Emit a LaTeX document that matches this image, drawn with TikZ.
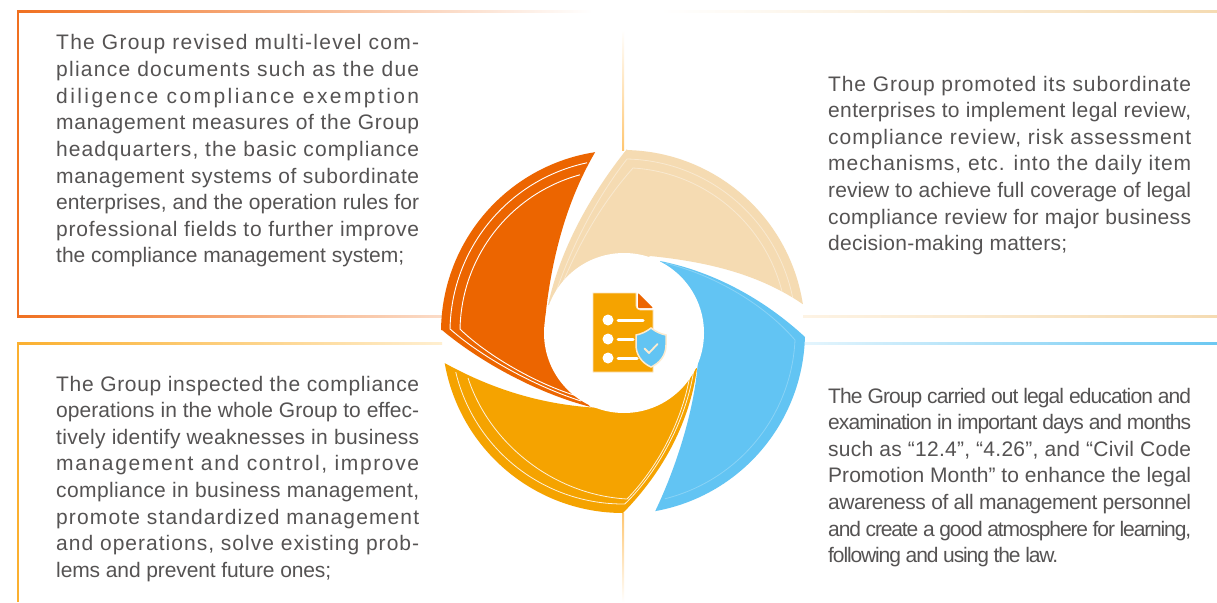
\documentclass[tikz,border=0pt]{standalone}
\usepackage{fontspec}
\usepackage{xcolor}
\setmainfont{Liberation Sans}
\definecolor{cdark}{HTML}{EC6500}
\definecolor{cpeach}{HTML}{F5DBB2}
\definecolor{cblue}{HTML}{62C4F3}
\definecolor{cyell}{HTML}{F5A300}
\definecolor{ctext}{HTML}{555353}
\definecolor{corg}{HTML}{F07020}
\definecolor{corgfade}{HTML}{FBDCC8}
\definecolor{cpfade}{HTML}{FDF3E4}
\definecolor{cbfade}{HTML}{E4F5FD}
\definecolor{cbline}{HTML}{6CC8F2}
\definecolor{cyline}{HTML}{FBB030}
\definecolor{cyfade}{HTML}{FFEFD0}
\definecolor{cvline}{HTML}{FFC670}
\definecolor{cicone}{HTML}{FBE3BC}
\definecolor{cshe}{HTML}{FCEBD0}
\newlength\fitN
\newlength\fitM
\ExplSyntaxOn
\cs_new:Npn \fitcount #1 { \str_count:n {#1} }
\ExplSyntaxOff
% first estimate of the tracking, then one secant step measured with that tracking
\newcommand\fitline[2]{\mbox{%
  \settowidth\fitN{#2}%
  \edef\fitLS{\fpeval{round(100*(#1-\fitN)/(\fitcount{#2}-1)/21,3)}}%
  \settowidth\fitM{\addfontfeature{LetterSpace=\fitLS}#2}%
  \edef\fitLT{\fpeval{abs(\fitM-\fitN)<0.01 ? 0 : round(\fitLS*(#1-\fitN)/(\fitM-\fitN),3)}}%
  \addfontfeature{LetterSpace=\fitLT}#2}}
\tikzset{
  para/.style={anchor=base west,inner sep=0pt,text=ctext,font=\fontsize{21}{26.6}\selectfont},
  hair/.style={draw=white,line width=0.9pt,line join=miter},
  hairp/.style={draw=white,opacity=.4,line width=0.8pt},
  hairb/.style={draw=white,opacity=.25,line width=0.8pt},
  hairy/.style={draw=white,opacity=.85,line width=0.8pt},
}
\begin{document}
\begin{tikzpicture}[x=1pt,y=1pt,yscale=-1]
\useasboundingbox (0,0) rectangle (1217,602);
\fill[white] (0,0) rectangle (1217,602);
% frames
\shade[left color=corg,right color=white] (17,11) rectangle (592,13);
\shade[left color=corg,right color=corgfade] (17,315) rectangle (442,317);
\fill[corg] (17,11) rectangle (19,317);
\shade[left color=white,right color=cpeach] (660,11) rectangle (1217,13);
\shade[left color=cpfade,right color=cpeach] (803,315) rectangle (1217,317);
\shade[left color=cbfade,right color=cbline] (805,342) rectangle (1217,344);
\shade[left color=cyline,right color=cyfade] (17,342) rectangle (442,344);
\fill[cyline] (17,342) rectangle (19,602);
\shade[bottom color=cvline,top color=white] (622,30) rectangle (624,150);
\shade[top color=cvline,bottom color=white] (622,513) rectangle (624,602);
% sectors
\fill[cdark] (623,332) ++(180.6:182) arc[start angle=180.6,end angle=261.2,radius=182]
  .. controls (570,195) and (552,250) .. (545,320) -- (590,407)
  -- (595,408) .. controls (540,395) and (480,362) .. (442,330) -- cycle;
\fill[cpeach] (623,332) ++(271.3:182) arc[start angle=271.3,end angle=351.2,radius=182]
  .. controls (760,275) and (710,262) .. (650,256) -- (600,300)
  -- (548,305) .. controls (560,250) and (590,195) .. (627,149) -- cycle;
\fill[cblue] (623,332) ++(1.6:182) arc[start angle=1.6,end angle=79.8,radius=182]
  .. controls (675,470) and (695,410) .. (698,360) -- (660,261)
  .. controls (715,272) and (765,300) .. (805,337) -- cycle;
\fill[cyell] (623,332) ++(90:181) arc[start angle=90,end angle=170.1,radius=181]
  .. controls (490,388) and (540,405) .. (600,408) -- (697,368)
  .. controls (690,420) and (665,470) .. (623,513) -- cycle;
% inner hairlines
\draw[hair] (623,332) ++(258:173) arc[start angle=258,end angle=181,radius=173]
  .. controls (485,360) and (540,388) .. (581,401);
\draw[hair] (623,332) ++(254.7:163) arc[start angle=254.7,end angle=181,radius=163]
  .. controls (490,358) and (540,385) .. (577,396);
\draw[hairp] (555,295) .. controls (570,250) and (595,200) .. (627,159)
  arc[start angle=271.3,end angle=350,radius=173];
\draw[hairp] (558,295) .. controls (575,250) and (600,205) .. (633,168)
  arc[start angle=273.5,end angle=348,radius=164];
\draw[hairb] (665,263) .. controls (715,275) and (765,305) .. (795,340)
  arc[start angle=2.7,end angle=76,radius=172];
\draw[hairy] (623,332) ++(166.5:172) arc[start angle=166.5,end angle=89.4,radius=172]
  .. controls (660,470) and (688,415) .. (694,368);
\draw[hairy] (468,378) .. controls (490,445) and (555,495) .. (627,499)
  .. controls (660,465) and (685,415) .. (691,368);
% hub
\fill[white] (624,333) circle[radius=80];
% icon
\fill[cyell,draw=cicone,line width=0.6pt] (593,293) -- (636,293) -- (636,306) to[out=90,in=180] (640,310) -- (653,310) -- (653,372) -- (593,372) -- cycle;
\fill[cdark,rounded corners=0.8pt] (638,293) -- (653,308) -- (638,308) -- cycle;
\fill[white] (608,320) circle[radius=5.5] (608,339) circle[radius=5.5] (608,358) circle[radius=5.5];
\draw[white,line width=3pt,line cap=round] (618,320) -- (643,320) (618,339) -- (633,339) (618,358) -- (637,358);
\filldraw[fill=cblue,draw=cshe,line width=1.5pt] (651,328) .. controls (656,332) and (661,334) .. (666,335) -- (666,345) .. controls (666,355) and (660,363) .. (651,367) .. controls (642,363) and (636,355) .. (636,345) -- (636,335) .. controls (641,334) and (646,332) .. (651,328) -- cycle;
\draw[cshe,line width=1.8pt,line cap=round,line join=round] (644.5,348.5) -- (649,353) -- (657.5,344);
% text
\node[para] (p1) at (56,50) {\parbox[t]{400pt}{%
\fitline{363}{The Group revised multi-level com-}\\
\fitline{363}{pliance documents such as the due}\\
\fitline{363}{diligence compliance exemption}\\
\fitline{363}{management measures of the Group}\\
\fitline{363}{headquarters, the basic compliance}\\
\fitline{363}{management systems of subordinate}\\
\fitline{363}{enterprises, and the operation rules for}\\
\fitline{363}{professional fields to further improve}\\
\fitline{348}{the compliance management system;}}};
\node[para] (p2) at (828,91) {\parbox[t]{400pt}{%
\fitline{363}{The Group promoted its subordinate}\\
\fitline{363}{enterprises to implement legal review,}\\
\fitline{363}{compliance review, risk assessment}\\
\fitline{363}{mechanisms, etc. into the daily item}\\
\fitline{363}{review to achieve full coverage of legal}\\
\fitline{363}{compliance review for major business}\\
\fitline{239}{decision-making matters;}}};
\node[para] (p3) at (56,391) {\parbox[t]{400pt}{%
\fitline{363}{The Group inspected the compliance}\\
\fitline{363}{operations in the whole Group to effec-}\\
\fitline{363}{tively identify weaknesses in business}\\
\fitline{363}{management and control, improve}\\
\fitline{363}{compliance in business management,}\\
\fitline{363}{promote standardized management}\\
\fitline{363}{and operations, solve existing prob-}\\
\fitline{275}{lems and prevent future ones;}}};
\node[para] (p4) at (828,403) {\parbox[t]{400pt}{%
\fitline{363}{The Group carried out legal education and}\\
\fitline{363}{examination in important days and months}\\
\fitline{363}{such as “12.4”, “4.26”, and “Civil Code}\\
\fitline{363}{Promotion Month” to enhance the legal}\\
\fitline{363}{awareness of all management personnel}\\
\fitline{363}{and create a good atmosphere for learning,}\\
\fitline{230}{following and using the law.}}};
\end{tikzpicture}
\end{document}
